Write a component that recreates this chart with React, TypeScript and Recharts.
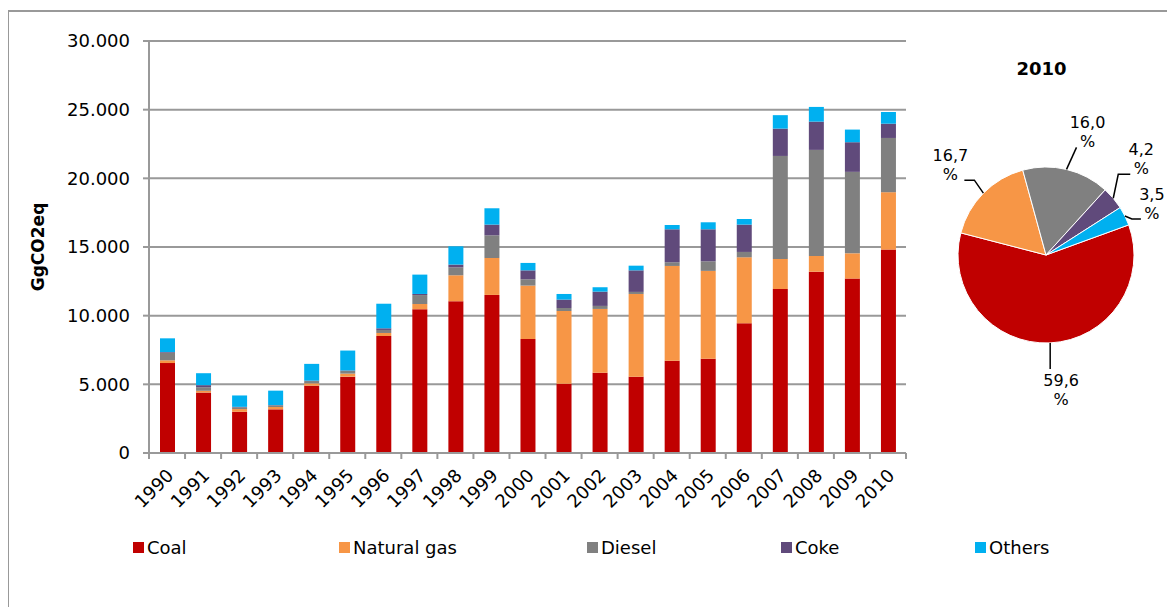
import { Bar, BarChart, CartesianGrid, Cell, Legend, Pie, PieChart, XAxis, YAxis } from "recharts";

const years = ["1990", "1991", "1992", "1993", "1994", "1995", "1996", "1997", "1998", "1999", "2000", "2001", "2002", "2003", "2004", "2005", "2006", "2007", "2008", "2009", "2010"];
const coal = [6550, 4400, 3000, 3180, 4900, 5560, 8520, 10470, 11050, 11510, 8300, 5050, 5850, 5560, 6720, 6870, 9450, 11940, 13200, 12700, 14810];
const naturalGas = [200, 130, 200, 170, 170, 220, 220, 380, 1890, 2690, 3890, 5290, 4640, 6020, 6900, 6390, 4800, 2190, 1150, 1840, 4180];
const diesel = [550, 260, 130, 120, 170, 200, 220, 650, 580, 1650, 460, 220, 220, 150, 270, 700, 390, 7500, 7720, 5930, 3950];
const coke = [50, 150, 30, 20, 30, 30, 120, 80, 200, 780, 650, 610, 1040, 1570, 2400, 2330, 1990, 1990, 2060, 2160, 1040];
const others = [1000, 870, 830, 1050, 1220, 1450, 1790, 1410, 1330, 1190, 540, 410, 320, 340, 310, 510, 410, 980, 1070, 920, 850];
const yTicks = [0, 5000, 10000, 15000, 20000, 25000, 30000];
const pieShares2010 = [59.6, 16.7, 16.0, 4.2, 3.5];

const series = [
  { key: "coal", name: "Coal", color: "#C00000", values: coal },
  { key: "gas", name: "Natural gas", color: "#F79646", values: naturalGas },
  { key: "diesel", name: "Diesel", color: "#808080", values: diesel },
  { key: "coke", name: "Coke", color: "#604A7B", values: coke },
  { key: "others", name: "Others", color: "#00B0F0", values: others },
];

const data = years.map((year, i) => {
  const row: Record<string, number | string> = { year };
  series.forEach((s) => (row[s.key] = s.values[i]));
  return row;
});

const pieData = series.map((s, i) => ({ name: s.name, value: pieShares2010[i], color: s.color }));

const FONT = "'DejaVu Sans', Verdana, sans-serif";
const GRID = "#999999";
const CHART_W = 1159;
const CHART_H = 560;
const Y_AXIS_W = 141;
const MARGIN = { top: 33, right: 261, left: 0, bottom: 6 };
const PLOT_W = CHART_W - MARGIN.left - MARGIN.right - Y_AXIS_W;
const BAND = PLOT_W / years.length;
const legendLeft = [125, 331, 579, 773, 967];
// pie leader lines: elbow offset from the slice edge, then a horizontal tail
const leaderElbow = [[0, 26], [-9, -13], [10, -22], [5, -24], [7, 3]];
const leaderTail = [0, -10, 0, 12, 9];

const fmt = (v: number) => String(v).replace(/\B(?=(\d{3})+(?!\d))/g, ".");

const XTick = (props: any) => {
  const { x, y, payload, index } = props;
  const half = BAND / 2;
  return (
    <g>
      <line x1={x - half} y1={y} x2={x - half} y2={y + 6} stroke={GRID} strokeWidth={2} />
      {index === years.length - 1 && <line x1={x + half} y1={y} x2={x + half} y2={y + 6} stroke={GRID} strokeWidth={2} />}
      <text
        transform={`translate(${x + 3},${y + 19}) rotate(-45)`}
        textAnchor="end"
        dominantBaseline="central"
        fill="#000"
        fontSize={18}
      >
        {payload.value}
      </text>
    </g>
  );
};

const YTitle = (props: any) => {
  const { viewBox } = props;
  const cx = viewBox.x + 30;
  const cy = viewBox.y + viewBox.height / 2;
  return (
    <text x={cx} y={cy} transform={`rotate(-90 ${cx} ${cy})`} textAnchor="middle" dominantBaseline="central" fontSize={17} fontWeight="bold" fill="#000">
      GgCO2eq
    </text>
  );
};

const ChartLegend = () => (
  <div style={{ position: "relative", height: 30, width: CHART_W }}>
    {series.map((s, i) => (
      <div key={s.key} style={{ position: "absolute", left: legendLeft[i], top: 0, height: 30, display: "flex", alignItems: "center", fontSize: 18, color: "#000" }}>
        <span style={{ width: 11, height: 11, background: s.color, marginRight: 3, display: "inline-block" }} />
        {s.name}
      </div>
    ))}
  </div>
);

const RADIAN = Math.PI / 180;

const PieLabel = (props: any) => {
  const { cx, cy, midAngle, outerRadius, value, index } = props;
  const cos = Math.cos(-midAngle * RADIAN);
  const sin = Math.sin(-midAngle * RADIAN);
  const [ex, ey] = leaderElbow[index] ?? [0, 0];
  const p1 = { x: cx + outerRadius * cos, y: cy + outerRadius * sin };
  const p2 = { x: p1.x + ex, y: p1.y + ey };
  const p3 = { x: p2.x + (leaderTail[index] ?? 0), y: p2.y };
  const tx = p3.x + (cos >= 0 ? 11 : -14);
  const ty = p3.y + (sin < 0 ? -15 : 21);
  return (
    <g>
      <polyline points={`${p1.x},${p1.y} ${p2.x},${p2.y} ${p3.x},${p3.y}`} fill="none" stroke="#000" strokeWidth={1.5} />
      <text x={tx} y={ty - 9.5} textAnchor="middle" dominantBaseline="central" fontSize={16} fill="#000">
        {value.toFixed(1).replace(".", ",")}
      </text>
      <text x={tx} y={ty + 9.5} textAnchor="middle" dominantBaseline="central" fontSize={16} fill="#000">
        %
      </text>
    </g>
  );
};

export default function App() {
  return (
    <div style={{ position: "fixed", left: 8, top: 8, width: CHART_W, height: 599, overflow: "hidden", fontFamily: FONT, background: "#fff" }}>
      <div style={{ position: "absolute", left: -1, top: 2, width: 1160, height: 600, borderLeft: `2px solid ${GRID}`, borderTop: `2px solid ${GRID}` }} />
      <div style={{ position: "absolute", left: 0, top: 0 }}>
        <BarChart width={CHART_W} height={CHART_H} data={data} margin={MARGIN}>
          <CartesianGrid stroke={GRID} strokeWidth={2} vertical={false} />
          <XAxis
            dataKey="year"
            axisLine={{ stroke: GRID, strokeWidth: 2 }}
            tickLine={false}
            tickSize={0}
            tickMargin={0}
            interval={0}
            height={79}
            tick={<XTick />}
          />
          <YAxis
            width={Y_AXIS_W}
            domain={[0, 30000]}
            ticks={yTicks}
            tickFormatter={fmt}
            axisLine={{ stroke: GRID, strokeWidth: 2 }}
            tickLine={{ stroke: GRID, strokeWidth: 2 }}
            tickSize={6}
            tickMargin={13}
            tick={{ fill: "#000", fontSize: 18 }}
            label={<YTitle />}
          />
          <Legend verticalAlign="bottom" content={<ChartLegend />} wrapperStyle={{ left: 0, width: CHART_W }} />
          {series.map((s) => (
            <Bar key={s.key} dataKey={s.key} name={s.name} stackId="a" fill={s.color} barSize={15} isAnimationActive={false} />
          ))}
        </BarChart>
      </div>
      <div style={{ position: "absolute", left: 912, top: 50, width: 247, textAlign: "center", fontSize: 18, fontWeight: "bold", color: "#000" }}>
        <span style={{ position: "relative", left: -2 }}>2010</span>
      </div>
      <div style={{ position: "absolute", left: 912, top: 0 }}>
        <PieChart width={247} height={440} margin={{ top: 0, right: 0, bottom: 0, left: 0 }}>
          <Pie
            data={pieData}
            dataKey="value"
            nameKey="name"
            cx={126}
            cy={247}
            outerRadius={88}
            startAngle={20}
            endAngle={-340}
            stroke="#fff"
            strokeWidth={1}
            label={PieLabel}
            labelLine={false}
            isAnimationActive={false}
          >
            {pieData.map((d) => (
              <Cell key={d.name} fill={d.color} />
            ))}
          </Pie>
        </PieChart>
      </div>
    </div>
  );
}
